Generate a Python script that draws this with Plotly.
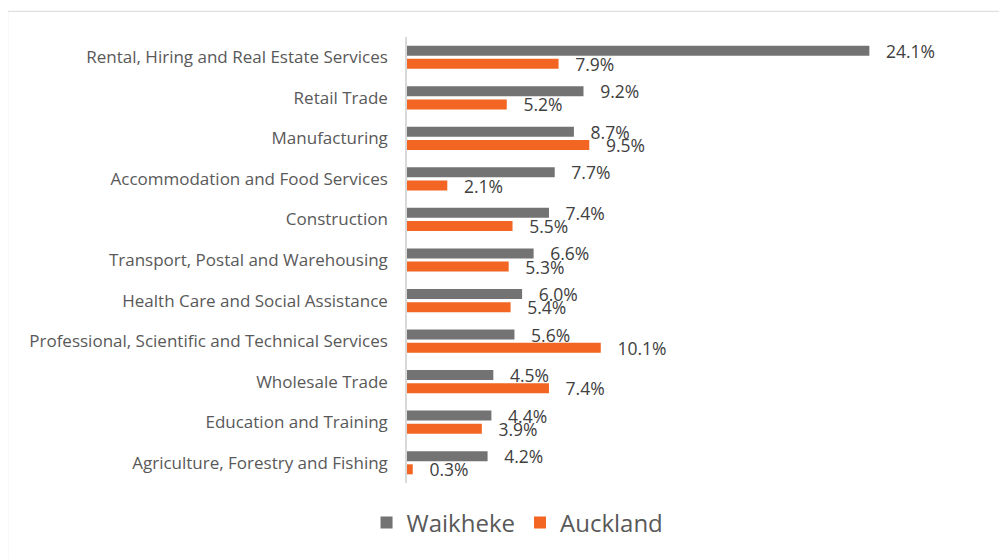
import plotly.graph_objects as go

categories = [
    "Rental, Hiring and Real Estate Services",
    "Retail Trade",
    "Manufacturing",
    "Accommodation and Food Services",
    "Construction",
    "Transport, Postal and Warehousing",
    "Health Care and Social Assistance",
    "Professional, Scientific and Technical Services",
    "Wholesale Trade",
    "Education and Training",
    "Agriculture, Forestry and Fishing",
]
waiheke = [24.1, 9.2, 8.7, 7.7, 7.4, 6.6, 6.0, 5.6, 4.5, 4.4, 4.2]
auckland = [7.9, 5.2, 9.5, 2.1, 5.5, 5.3, 5.4, 10.1, 7.4, 3.9, 0.3]

W, H = 1007, 559
OFF = 8  # page offset of the figure
L = 407 - OFF
T = 36.7 - OFF
B = H - (483.3 - OFF)
XMAX = 27
SCALE = (869 - 407) / 24.1
R = W - L - XMAX * SCALE

PAD = "\u00a0\u00a0\u00a0"
FONT = "Open Sans"

fig = go.Figure()
fig.add_trace(go.Bar(
    y=categories, x=waiheke, orientation="h", name="Waikheke",
    marker=dict(color="#737373", line=dict(width=0)),
    text=[f"{PAD}{v:.1f}%" for v in waiheke], textposition="outside",
    constraintext="none",
    textfont=dict(color="#404040", size=17.5, family=FONT), cliponaxis=False,
))
fig.add_trace(go.Bar(
    y=categories, x=auckland, orientation="h", name="Auckland",
    marker=dict(color="#F26522", line=dict(width=0)),
    text=[f"{PAD}{v:.1f}%" for v in auckland], textposition="outside",
    constraintext="none",
    textfont=dict(color="#404040", size=17.5, family=FONT), cliponaxis=False,
))

pw = W - L - R
ph = H - T - B
x0 = (0 - L) / pw
x1 = (W + 20 - L) / pw
y0 = (-20 - B) / ph
y1 = (H - 3 - B) / ph

fig.update_layout(
    width=W, height=H,
    margin=dict(l=L, r=R, t=T, b=B, pad=0),
    barmode="group", bargap=0.35, bargroupgap=0.24,
    plot_bgcolor="white", paper_bgcolor="white",
    font=dict(family=FONT, color="#595959", size=17),
    xaxis=dict(range=[0, XMAX], visible=False, showgrid=False, zeroline=False),
    yaxis=dict(autorange="reversed", showline=True, linecolor="#d9d9d9", linewidth=1.5,
               ticks="outside", ticklen=0, ticklabelstandoff=14,
               tickfont=dict(size=17, color="#595959", family=FONT)),
    legend=dict(orientation="h", xref="container", yref="container",
                x=0.506, y=1 - (523 - OFF) / H, xanchor="center", yanchor="middle",
                font=dict(size=24, color="#595959", family=FONT), traceorder="normal"),
    showlegend=True,
    shapes=[dict(type="rect", xref="paper", yref="paper", x0=x0, x1=x1, y0=y0, y1=y1,
                 line=dict(color="#d9d9d9", width=1), layer="below")],
)
fig.write_html("out.html")
